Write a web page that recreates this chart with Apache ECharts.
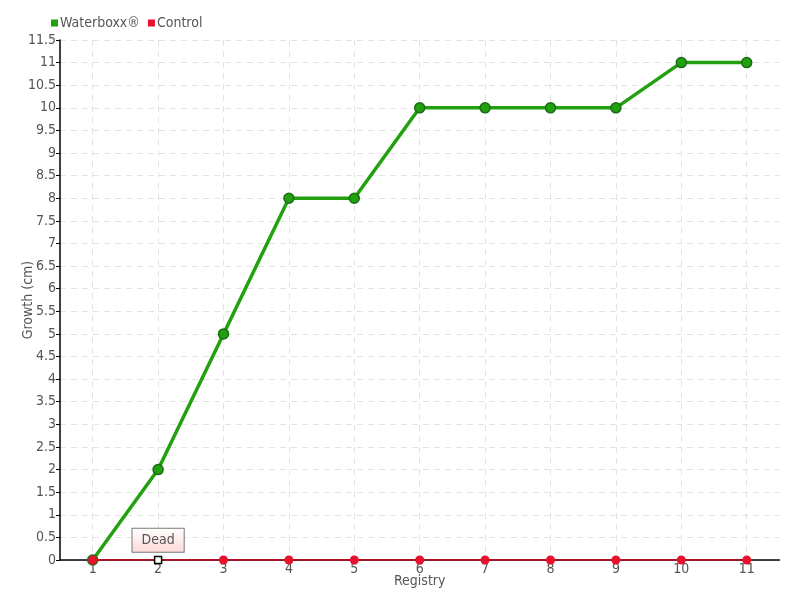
<!DOCTYPE html>
<html><head><meta charset="utf-8">
<script src="https://cdn.jsdelivr.net/npm/echarts@6/dist/echarts.min.js"></script>
<style>html,body{margin:0;padding:0;background:#fff}#c{width:800px;height:600px}</style>
</head><body><div id="c"></div>
<script>
var categories = ['1','2','3','4','5','6','7','8','9','10','11'];
var waterboxx = [0,2,5,8,8,10,10,10,10,11,11];
var control = [0,0,0,0,0,0,0,0,0,0,0];
var deadIndex = 1;
var deadLabel = 'Dead';

var font = 'DejaVu Sans Condensed';
var chart = echarts.init(document.getElementById('c'));
var controlData = control.map(function(v, i){
  if (i === deadIndex) {
    return {
      value: v,
      symbol: 'rect', symbolSize: 7,
      itemStyle: {color: '#fff', borderColor: '#000', borderWidth: 1.5},
      label: {
        show: true, position: 'top', distance: 4, formatter: deadLabel,
        fontFamily: font, fontSize: 14, color: '#555',
        backgroundColor: {type:'linear',x:0,y:0,x2:0,y2:1,colorStops:[{offset:0,color:'#fff'},{offset:1,color:'#fdd8d8'}]},
        borderColor: '#777', borderWidth: 1, padding: [5,9,4,9]
      }
    };
  }
  return v;
});
chart.setOption({
  animation: false,
  textStyle: {fontFamily: font},
  legend: {
    left: 46, top: 11, itemWidth: 7, itemHeight: 7, itemGap: 8,
    icon: 'rect',
    itemStyle: {borderWidth: 0},
    textStyle: {fontFamily: font, fontSize: 14, color: '#555', padding: [0,0,0,-3]},
    data: ['Waterboxx®', 'Control']
  },
  grid: {left: 60, right: 20.6, top: 40, bottom: 40, containLabel: false, outerBoundsMode: 'none'},
  xAxis: {
    type: 'category', data: categories, boundaryGap: true,
    name: 'Registry', nameLocation: 'middle', nameGap: 14, nameMoveOverlap: false,
    nameTextStyle: {fontFamily: font, fontSize: 14, color: '#555'},
    axisLine: {lineStyle: {color: '#000', width: 1.5}},
    axisTick: {show: false},
    axisLabel: {fontFamily: font, fontSize: 14, color: '#555', margin: 2},
    splitLine: {show: true, alignWithLabel: true, lineStyle: {color: '#e3e3e3', type: [6,5], width: 1}}
  },
  yAxis: {
    type: 'value', min: 0, max: 11.5, interval: 0.5,
    name: 'Growth (cm)', nameLocation: 'middle', nameGap: 25, nameMoveOverlap: false,
    nameTextStyle: {fontFamily: font, fontSize: 14, color: '#555'},
    axisLine: {show: true, lineStyle: {color: '#000', width: 1.5}},
    axisTick: {show: true, length: 4, lineStyle: {color: '#000'}},
    axisLabel: {fontFamily: font, fontSize: 14, color: '#555', margin: 4},
    splitLine: {show: true, lineStyle: {color: '#e3e3e3', type: [6,5], width: 1}}
  },
  series: [
    {
      name: 'Waterboxx®', type: 'line', data: waterboxx,
      symbol: 'circle', symbolSize: 10,
      color: '#22a010',
      lineStyle: {color: '#22a010', width: 3.5},
      itemStyle: {color: '#22a010', borderColor: '#1a6e14', borderWidth: 1.5},
      z: 2
    },
    {
      name: 'Control', type: 'line', data: controlData,
      symbol: 'circle', symbolSize: 9,
      color: '#e8102a',
      lineStyle: {color: '#d9001b', width: 1.5},
      itemStyle: {color: '#e8102a', borderColor: '#e8102a', borderWidth: 0},
      z: 3
    }
  ]
});
</script></body></html>
